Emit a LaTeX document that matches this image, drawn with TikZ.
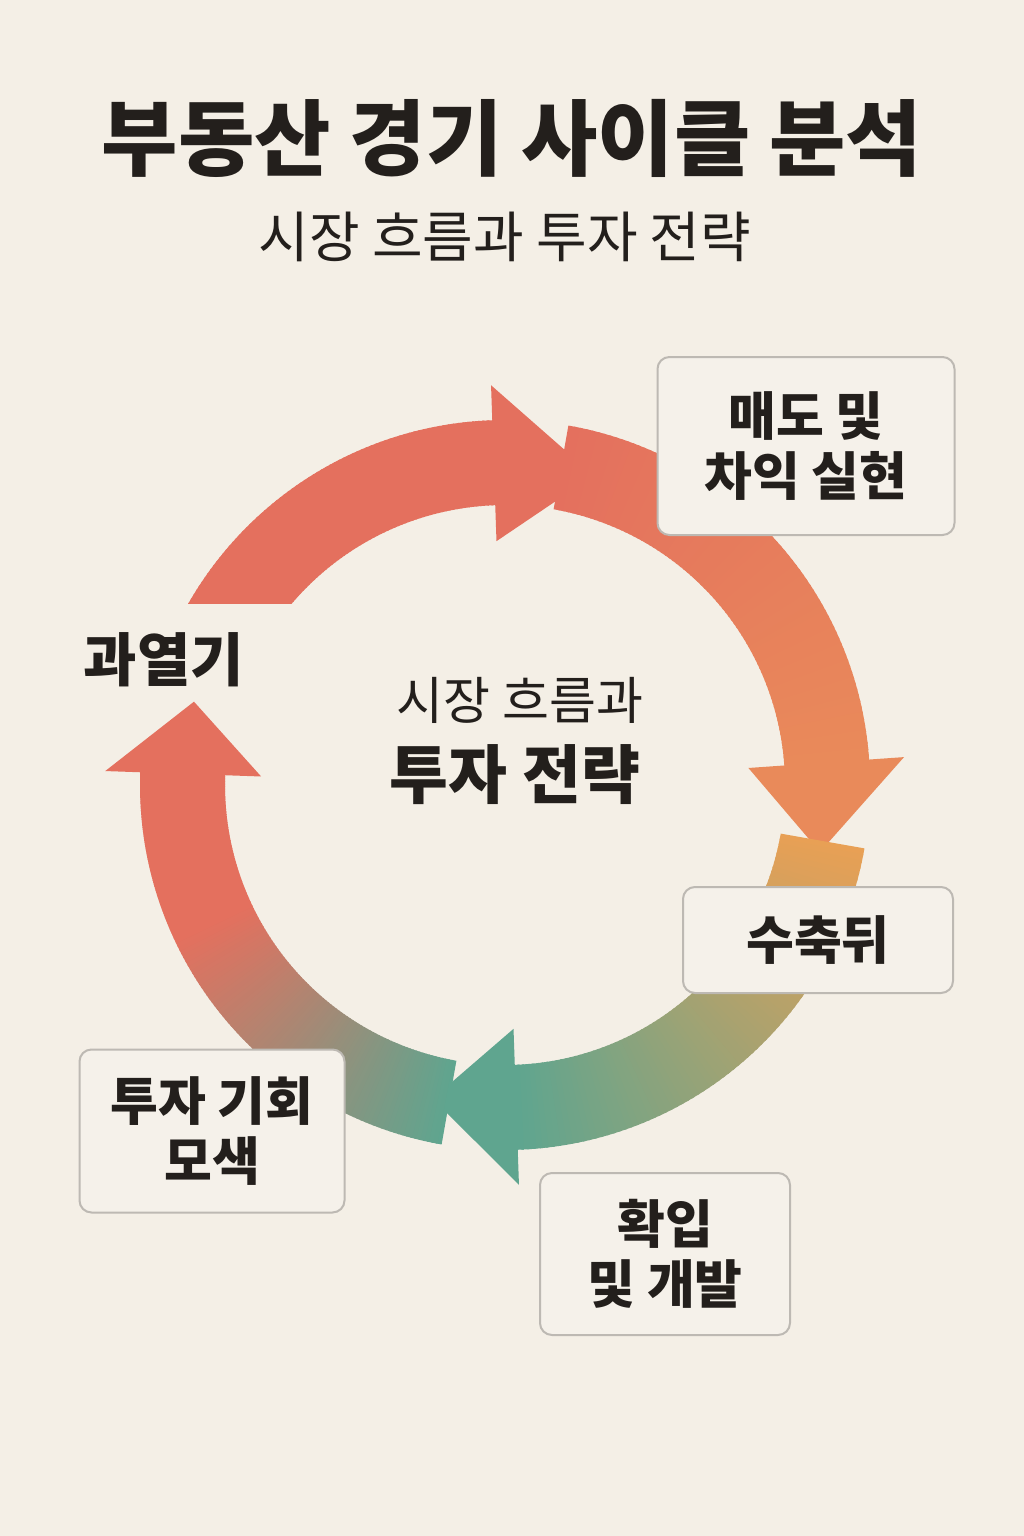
\documentclass[tikz,border=0pt]{standalone}
\usepackage{fontspec}
\setmainfont{Noto Sans CJK KR}
\definecolor{bg}{HTML}{F4EFE6}
\definecolor{boxf}{HTML}{F5F1EA}
\definecolor{boxd}{HTML}{BDB9B3}
\definecolor{txt}{HTML}{231F1C}
\definecolor{cr}{HTML}{E4705E}
\definecolor{cr2}{HTML}{E98A5A}
\definecolor{co}{HTML}{E8A055}
\definecolor{cg}{HTML}{5FA58F}
\newcommand\gband[4]{%
  \foreach \i in {0,...,79}{%
    \pgfmathsetmacro\aa{#1+(#2-#1)*\i/80}%
    \pgfmathsetmacro\ab{#1+(#2-#1)*(\i+1.4)/80}%
    \pgfmathsetmacro\pp{100-100*\i/79}%
    \fill[#3!\pp!#4] (\aa:280) -- (\aa:365) arc[start angle=\aa,end angle=\ab,radius=365] -- (\ab:280) arc[start angle=\ab,end angle=\aa,radius=280] -- cycle;}}
\newcommand\ghead[3]{\fill[#3] (#1:244) -- (#1:400) -- (#2:322) -- cycle;}
\tikzset{box/.style={draw=boxd,fill=boxf,line width=2pt,rounded corners=12pt,align=center,text=txt,font=\fontsize{52}{60}\selectfont\bfseries},
lab/.style={text=txt,align=center}}
\begin{document}
\begin{tikzpicture}[x=1pt,y=1pt]
\fill[bg] (0,0) rectangle (1024,-1536);
\useasboundingbox (0,0) rectangle (1024,-1536);
\node[lab,font=\fontsize{83}{90}\selectfont\bfseries] (title) at (512,-138) {부동산 경기 사이클 분석};
\node[lab,font=\fontsize{55}{62}\selectfont] (sub) at (505,-237) {시장 흐름과 투자 전략};
\begin{scope}[shift={(505,-785)}]
\begin{scope}
\clip (-400,182) rectangle (400,450);
\gband{155}{92}{cr}{cr}
\end{scope}
\ghead{92}{74}{cr}
\gband{80}{4}{cr}{cr2}
\ghead{4}{-12}{cr2}
\gband{-10}{-88}{co}{cg}
\ghead{-88}{-103}{cg}
\gband{260}{205}{cg}{cr}
\gband{205}{178}{cr}{cr}
\ghead{178}{165}{cr}
\end{scope}
\node[lab,font=\fontsize{58}{64}\selectfont\bfseries] (hot) at (164,-660) {과열기};
\node[lab,font=\fontsize{51}{58}\selectfont] (c1) at (520,-700) {시장 흐름과};
\node[lab,font=\fontsize{64}{70}\selectfont\bfseries] (c2) at (515,-775) {투자 전략};
\node[box,minimum width=297pt,minimum height=178pt] (b1) at (806,-446) {매도 및\\차익 실현};
\node[box,minimum width=270pt,minimum height=106pt] (b2) at (818,-940) {수축뒤};
\node[box,minimum width=250pt,minimum height=162pt] (b3) at (665,-1254) {확입\\및 개발};
\node[box,minimum width=265pt,minimum height=163pt] (b4) at (212,-1131) {투자 기회\\모색};
\end{tikzpicture}
\end{document}
